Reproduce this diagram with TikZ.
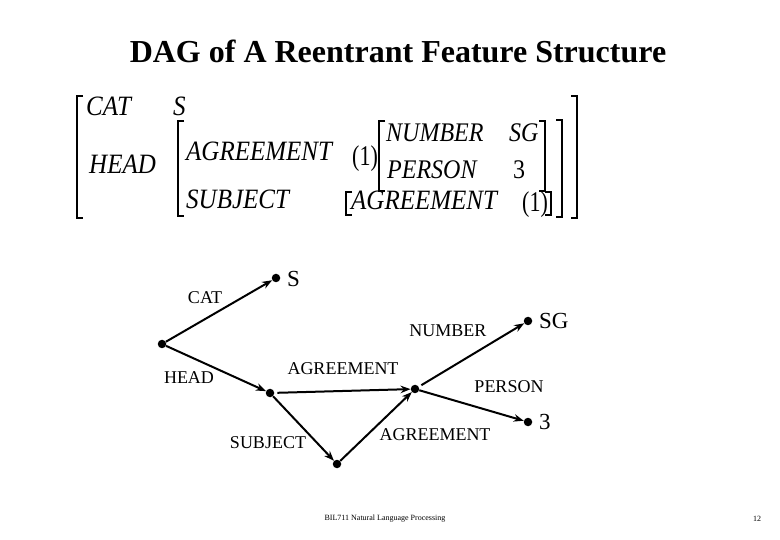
\documentclass[tikz,border=0pt]{standalone}
\usepackage{fontspec}
\setmainfont{Liberation Serif}
\usetikzlibrary{arrows.meta}
\newcommand\avmtall[1]{\scalebox{1}[1.12]{#1}}
\newcommand\avmtag[1]{\scalebox{1}[1.3]{#1}}
\begin{document}
\begin{tikzpicture}[x=1pt,y=-1pt,
  avm/.style={anchor=base west,inner sep=0pt,font=\fontsize{25}{25}\selectfont\itshape},
  avms/.style={anchor=base west,inner sep=0pt,font=\fontsize{24}{24}\selectfont\itshape},
  avmup/.style={anchor=base west,inner sep=0pt,font=\fontsize{24}{24}\selectfont},
  tag/.style={anchor=base west,inner sep=0pt,font=\fontsize{22}{22}\selectfont},
  brk/.style={line width=1.1pt},
  dot/.style={circle,fill,inner sep=0pt,minimum size=8.5pt},
  lab/.style={inner sep=0pt,font=\fontsize{18}{18}\selectfont},
  val/.style={anchor=west,inner sep=0pt,font=\fontsize{23}{23}\selectfont},
  arr/.style={line width=2pt,-{Stealth[length=10pt,width=7.5pt]}}]
\useasboundingbox (0,0) rectangle (780,540);
% title
\node[inner sep=0pt,font=\fontsize{32}{32}\selectfont\bfseries] (title) at (398,51) {DAG of A Reentrant Feature Structure};
% AVM
\node[avm] (cat) at (86,116) {\avmtall{CAT}};
\node[avm] (catv) at (173,116) {\avmtall{S}};
\node[avm] (head) at (89,174) {\avmtall{HEAD}};
\node[avm] (agr) at (186,161) {\avmtall{AGREEMENT}};
\node[avm] (subj) at (186,209) {\avmtall{SUBJECT}};
\node[tag] (tag1) at (352,166) {\avmtag{(1)}};
\node[avms] (num) at (386,142) {\avmtall{NUMBER}};
\node[avms] (numv) at (509,142) {\avmtall{SG}};
\node[avms] (per) at (387,179) {\avmtall{PERSON}};
\node[avmup] (perv) at (513,179) {\avmtall{3}};
\node[avm] (agr2) at (351,210) {\avmtall{AGREEMENT}};
\node[tag] (tag2) at (522,212) {\avmtag{(1)}};
% brackets
\draw[brk] (83,96) -- (77,96) -- (77,218) -- (83,218);
\draw[brk] (571,96) -- (577,96) -- (577,218) -- (571,218);
\draw[brk] (184,121) -- (178,121) -- (178,216) -- (184,216);
\draw[brk] (556,120) -- (562,120) -- (562,217) -- (556,217);
\draw[brk] (385,121) -- (379,121) -- (379,191) -- (385,191);
\draw[brk] (539,121) -- (545,121) -- (545,191) -- (539,191);
\draw[brk] (352,192) -- (346,192) -- (346,215) -- (352,215);
\draw[brk] (545,192) -- (551,192) -- (551,215) -- (545,215);
% DAG
\node[dot] (root) at (162,344) {};
\node[dot] (sdot) at (276,278) {};
\node[dot] (hn) at (270,393) {};
\node[dot] (sn) at (337,464) {};
\node[dot] (an) at (415,389) {};
\node[dot] (sgdot) at (528,321) {};
\node[dot] (tdot) at (528,422) {};
\node[val] (sval) at (287,279) {S};
\node[val] (sgval) at (539,321) {SG};
\node[val] (tval) at (539,422) {3};
\draw[arr] (root) -- (sdot);
\draw[arr] (root) -- (hn);
\draw[arr,shorten <=3pt] (hn) -- (an);
\draw[arr] (hn) -- (sn);
\draw[arr] (sn) -- (an);
\draw[arr,shorten <=3pt] (an) -- (sgdot);
\draw[arr] (an) -- (tdot);
\node[lab] (lcat) at (205,298) {CAT};
\node[lab] (lhead) at (189,378) {HEAD};
\node[lab] (lagr) at (343,369) {AGREEMENT};
\node[lab] (lsubj) at (268,443) {SUBJECT};
\node[lab] (lagr2) at (435,435) {AGREEMENT};
\node[lab] (lnum) at (448,331) {NUMBER};
\node[lab] (lper) at (509,387) {PERSON};
% footer
\node[inner sep=0pt,font=\fontsize{8}{8}\selectfont] (foot) at (385,519) {BIL711 Natural Language Processing};
\node[inner sep=0pt,font=\fontsize{8}{8}\selectfont] (page) at (757,519) {12};
\end{tikzpicture}
\end{document}
